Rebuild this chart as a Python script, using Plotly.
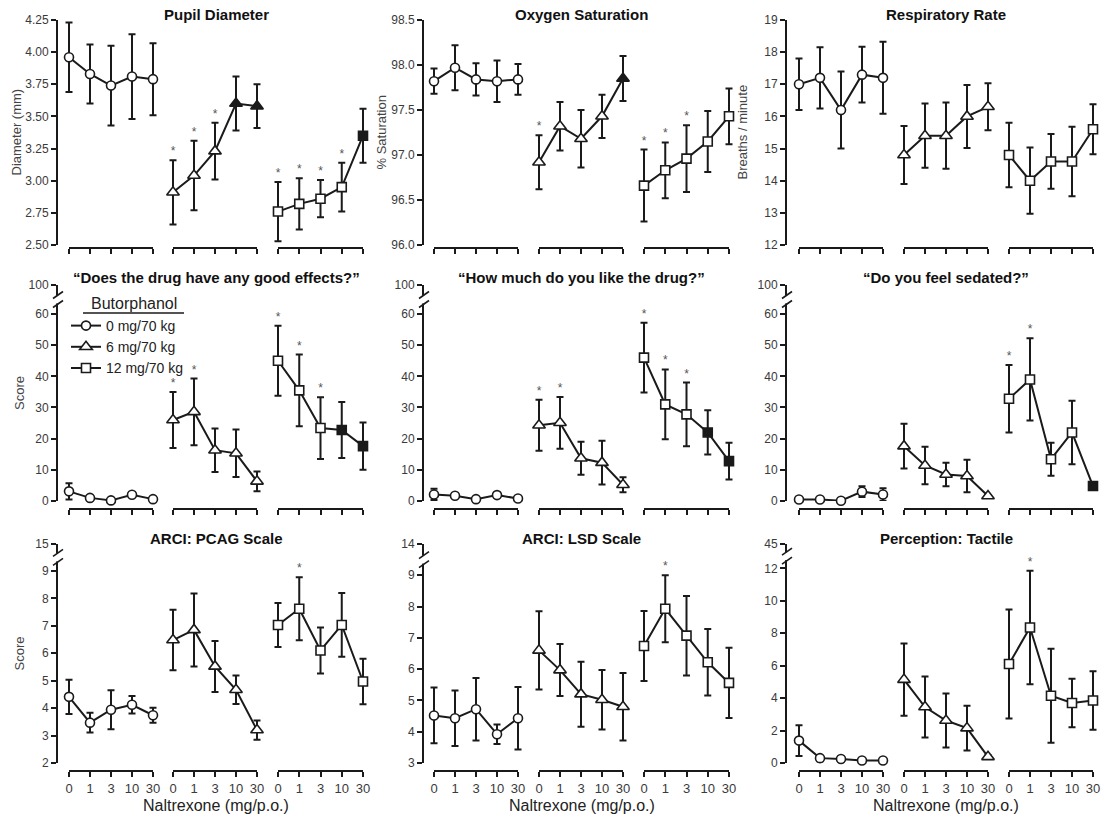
import plotly.graph_objects as go

W, H = 1103, 818

# ---------------- data ----------------
naltrexone_labels = ["0", "1", "3", "10", "30"]
butorphanol_doses = ["0 mg/70 kg", "6 mg/70 kg", "12 mg/70 kg"]

pupil_0 = [3.96, 3.83, 3.74, 3.81, 3.79]
pupil_0_err = [0.27, 0.23, 0.31, 0.33, 0.28]
pupil_6 = [2.91, 3.04, 3.23, 3.60, 3.58]
pupil_6_err = [0.25, 0.27, 0.22, 0.21, 0.17]
pupil_12 = [2.76, 2.82, 2.86, 2.95, 3.35]
pupil_12_err = [0.23, 0.20, 0.145, 0.19, 0.21]

oxygen_0 = [97.82, 97.97, 97.84, 97.82, 97.84]
oxygen_0_err = [0.14, 0.25, 0.18, 0.23, 0.17]
oxygen_6 = [96.92, 97.32, 97.18, 97.43, 97.85]
oxygen_6_err = [0.30, 0.27, 0.32, 0.24, 0.25]
oxygen_12 = [96.66, 96.83, 96.96, 97.15, 97.43]
oxygen_12_err = [0.40, 0.31, 0.37, 0.34, 0.31]

resp_0 = [17.0, 17.2, 16.2, 17.3, 17.2]
resp_0_err = [0.80, 0.95, 1.20, 0.87, 1.12]
resp_6 = [14.8, 15.4, 15.4, 16.0, 16.3]
resp_6_err = [0.90, 1.00, 1.03, 0.98, 0.73]
resp_12 = [14.8, 14.0, 14.6, 14.6, 15.6]
resp_12_err = [1.00, 1.03, 0.85, 1.08, 0.78]

good_0 = [3.1, 1.0, 0.2, 2.0, 0.6]
good_0_err = [2.6, 0.5, 0.3, 0.6, 0.4]
good_6 = [26.0, 28.6, 16.3, 15.3, 6.3]
good_6_err = [9.0, 10.7, 7.0, 7.6, 3.2]
good_12 = [45.0, 35.5, 23.4, 22.8, 17.6]
good_12_err = [11.2, 11.5, 9.9, 9.0, 7.6]

like_0 = [2.1, 1.7, 0.6, 1.9, 0.8]
like_0_err = [1.8, 0.5, 0.3, 0.5, 0.3]
like_6 = [24.3, 25.1, 13.7, 12.3, 5.2]
like_6_err = [8.2, 8.3, 5.3, 7.0, 2.4]
like_12 = [46.0, 31.0, 27.8, 22.0, 12.8]
like_12_err = [11.2, 11.2, 10.2, 7.1, 5.9]

sedated_0 = [0.5, 0.5, 0.1, 3.0, 2.1]
sedated_0_err = [0.3, 0.3, 0.2, 1.7, 2.0]
sedated_6 = [17.6, 11.4, 8.5, 8.0, 1.6]
sedated_6_err = [7.2, 6.0, 3.8, 5.2, 0.3]
sedated_12 = [32.8, 39.0, 13.4, 22.0, 4.8]
sedated_12_err = [10.8, 13.2, 5.3, 10.2, 0.3]

pcag_0 = [4.41, 3.47, 3.94, 4.12, 3.74]
pcag_0_err = [0.62, 0.36, 0.71, 0.32, 0.27]
pcag_6 = [6.48, 6.85, 5.52, 4.67, 3.20]
pcag_6_err = [1.10, 1.33, 0.93, 0.52, 0.35]
pcag_12 = [7.03, 7.62, 6.10, 7.03, 4.97]
pcag_12_err = [0.80, 1.15, 0.84, 1.16, 0.83]

lsd_0 = [4.52, 4.43, 4.72, 3.92, 4.43]
lsd_0_err = [0.89, 0.89, 1.00, 0.31, 1.00]
lsd_6 = [6.60, 5.97, 5.20, 5.02, 4.80]
lsd_6_err = [1.25, 0.83, 1.04, 0.95, 1.08]
lsd_12 = [6.74, 7.93, 7.07, 6.22, 5.56]
lsd_12_err = [1.12, 1.07, 1.27, 1.06, 1.12]

tactile_0 = [1.38, 0.30, 0.25, 0.15, 0.15]
tactile_0_err = [0.95, 0.10, 0.10, 0.10, 0.10]
tactile_6 = [5.14, 3.45, 2.62, 2.15, 0.38]
tactile_6_err = [2.23, 1.88, 1.67, 1.38, 0.10]
tactile_12 = [6.10, 8.35, 4.15, 3.70, 3.85]
tactile_12_err = [3.36, 3.50, 2.90, 1.50, 1.80]

# y tick values / labels per panel (last value on broken axes carries the break label)
pupil_ticks = [2.5, 2.75, 3.0, 3.25, 3.5, 3.75, 4.0, 4.25]
oxygen_ticks = [96.0, 96.5, 97.0, 97.5, 98.0, 98.5]
resp_ticks = [12, 13, 14, 15, 16, 17, 18, 19]
score_ticks = [0, 10, 20, 30, 40, 50, 60, 69.3]
score_ticktext = ["0", "10", "20", "30", "40", "50", "60", "100"]
pcag_ticks = [2, 3, 4, 5, 6, 7, 8, 9, 9.98]
pcag_ticktext = ["2", "3", "4", "5", "6", "7", "8", "9", "15"]
lsd_ticks = [3, 4, 5, 6, 7, 8, 9, 10]
lsd_ticktext = ["3", "4", "5", "6", "7", "8", "9", "14"]
tactile_ticks = [0, 2, 4, 6, 8, 10, 12, 13.5]
tactile_ticktext = ["0", "2", "4", "6", "8", "10", "12", "45"]

panels = [
    dict(title="Pupil Diameter", ytitle="Diameter (mm)",
         means=[pupil_0, pupil_6, pupil_12], errs=[pupil_0_err, pupil_6_err, pupil_12_err],
         filled=[[], [3, 4], [4]], stars=[[], [0, 1, 2], [0, 1, 2, 3]],
         ticks=pupil_ticks, ticktext=[f"{v:.2f}" for v in pupil_ticks], broken=False),
    dict(title="Oxygen Saturation", ytitle="% Saturation",
         means=[oxygen_0, oxygen_6, oxygen_12], errs=[oxygen_0_err, oxygen_6_err, oxygen_12_err],
         filled=[[], [4], []], stars=[[], [0], [0, 1, 2]],
         ticks=oxygen_ticks, ticktext=[f"{v:.1f}" for v in oxygen_ticks], broken=False),
    dict(title="Respiratory Rate", ytitle="Breaths / minute",
         means=[resp_0, resp_6, resp_12], errs=[resp_0_err, resp_6_err, resp_12_err],
         filled=[[], [], []], stars=[[], [], []],
         ticks=resp_ticks, ticktext=[str(v) for v in resp_ticks], broken=False),
    dict(title="\u201cDoes the drug have any good effects?\u201d", ytitle="Score",
         means=[good_0, good_6, good_12], errs=[good_0_err, good_6_err, good_12_err],
         filled=[[], [], [3, 4]], stars=[[], [0, 1], [0, 1, 2]],
         ticks=score_ticks, ticktext=score_ticktext, broken=True),
    dict(title="\u201cHow much do you like the drug?\u201d", ytitle=None,
         means=[like_0, like_6, like_12], errs=[like_0_err, like_6_err, like_12_err],
         filled=[[], [], [3, 4]], stars=[[], [0, 1], [0, 1, 2]],
         ticks=score_ticks, ticktext=score_ticktext, broken=True),
    dict(title="\u201cDo you feel sedated?\u201d", ytitle=None,
         means=[sedated_0, sedated_6, sedated_12], errs=[sedated_0_err, sedated_6_err, sedated_12_err],
         filled=[[], [], [4]], stars=[[], [], [0, 1]],
         ticks=score_ticks, ticktext=score_ticktext, broken=True),
    dict(title="ARCI: PCAG Scale", ytitle="Score",
         means=[pcag_0, pcag_6, pcag_12], errs=[pcag_0_err, pcag_6_err, pcag_12_err],
         filled=[[], [], []], stars=[[], [], [1]],
         ticks=pcag_ticks, ticktext=pcag_ticktext, broken=True),
    dict(title="ARCI: LSD Scale", ytitle=None,
         means=[lsd_0, lsd_6, lsd_12], errs=[lsd_0_err, lsd_6_err, lsd_12_err],
         filled=[[], [], []], stars=[[], [], [1]],
         ticks=lsd_ticks, ticktext=lsd_ticktext, broken=True),
    dict(title="Perception: Tactile", ytitle=None,
         means=[tactile_0, tactile_6, tactile_12], errs=[tactile_0_err, tactile_6_err, tactile_12_err],
         filled=[[], [], []], stars=[[], [], [1]],
         ticks=tactile_ticks, ticktext=tactile_ticktext, broken=True),
]

# ---------------- layout geometry (pixels) ----------------
COL_YAXIS_X = [58, 424, 787]
COL_SEGS = [[(69, 153), (173, 257), (278, 363)],
            [(434, 518), (539, 623), (644, 729)],
            [(799, 883), (904, 988), (1009, 1093)]]
ROW_DOM = [(20, 245), (285, 501), (544, 763)]
ROW_XOFF = [2, 7, 7]
TITLE_Y = [15, 277, 538]
YTITLE_X = [16, 381, 742]
SEG_PAD = 9      # px of invisible room around each segment so caps/markers are not clipped
STAR_GAP = 8     # px between error-bar cap and the centre of the significance star

SYMBOLS = ["circle", "triangle-up", "square"]
SIZES = [9, 11, 9]
INK = "#1a1a1a"
FONT = "Liberation Sans, Arial, Helvetica, sans-serif"


def px(x):
    return x / W


def py(y):
    return 1 - y / H


fig = go.Figure()
layout = dict(
    width=W, height=H, autosize=False,
    margin=dict(l=0, r=0, t=0, b=0, pad=0, autoexpand=False),
    paper_bgcolor="white", plot_bgcolor="rgba(0,0,0,0)",
    font=dict(family=FONT, color=INK),
    showlegend=True,
    annotations=[], shapes=[],
)


def empty(xa, ya):
    fig.add_trace(go.Scatter(x=[], y=[], xaxis=xa, yaxis=ya, showlegend=False, hoverinfo="skip"))


# dummy anchor axes: one x per column (places y-axis lines), one y per row (places x-axis lines)
for c in range(3):
    layout[f"xaxis{28 + c}"] = dict(domain=[px(COL_YAXIS_X[c]), px(COL_YAXIS_X[c] + 1)],
                                    visible=False, range=[0, 1], anchor="y10")
for r in range(3):
    b = ROW_DOM[r][1] + ROW_XOFF[r]
    layout[f"yaxis{10 + r}"] = dict(domain=[py(b), py(b - 1)], visible=False, range=[0, 1],
                                    anchor="x28")

for p, pan in enumerate(panels):
    r, c = divmod(p, 3)
    yid = "" if p == 0 else str(p + 1)
    top_px, bot_px = ROW_DOM[r]
    ticks = pan["ticks"]
    yr = [ticks[0], ticks[-1]]
    units_per_px = (yr[1] - yr[0]) / (bot_px - top_px)
    layout["yaxis" + yid] = dict(
        domain=[py(bot_px), py(top_px)], range=yr, anchor=f"x{28 + c}",
        showline=True, linecolor=INK, linewidth=2, ticks="outside", ticklen=5, tickwidth=2,
        tickcolor=INK, tickvals=ticks, ticktext=pan["ticktext"],
        tickfont=dict(size=12, color="#3a3a3a"), showgrid=False, zeroline=False,
    )
    empty(f"x{28 + c}", "y" + yid)
    for g in range(3):
        k = p * 3 + g + 1
        xid = "" if k == 1 else str(k)
        l_px, r_px = COL_SEGS[c][g]
        upp = 4.0 / (r_px - l_px)
        # invisible data axis (slightly padded, same scale as the visible segment)
        layout["xaxis" + xid] = dict(
            domain=[px(l_px - SEG_PAD), px(r_px + SEG_PAD)],
            range=[-SEG_PAD * upp, 4 + SEG_PAD * upp], anchor="y" + yid, visible=False,
        )
        # visible axis segment
        kd = 30 + k
        layout[f"xaxis{kd}"] = dict(
            domain=[px(l_px), px(r_px)], range=[0, 4], anchor=f"y{10 + r}",
            showline=True, linecolor=INK, linewidth=2, ticks="outside", ticklen=5, tickwidth=2,
            tickcolor=INK, tickvals=[0, 1, 2, 3, 4], ticktext=naltrexone_labels,
            showticklabels=(r == 2), tickfont=dict(size=13, color="#3a3a3a"),
            showgrid=False, zeroline=False,
        )
        empty(f"x{kd}", f"y{10 + r}")

        ys = pan["means"][g]
        es = pan["errs"][g]
        colors = [INK if i in pan["filled"][g] else "white" for i in range(len(ys))]
        fig.add_trace(go.Scatter(
            x=list(range(len(ys))), y=ys, xaxis="x" + xid, yaxis="y" + yid,
            mode="lines+markers", name=butorphanol_doses[g],
            showlegend=(p == 3), legendgroup=str(g),
            line=dict(color=INK, width=2),
            marker=dict(symbol=SYMBOLS[g], size=SIZES[g], color=colors,
                        line=dict(color=INK, width=1.6)),
            error_y=dict(type="data", array=es, symmetric=True, color=INK, thickness=2, width=3.5),
            cliponaxis=False, hoverinfo="skip",
        ))
        st = pan["stars"][g]
        if st:
            fig.add_trace(go.Scatter(
                x=st, y=[ys[i] + es[i] + STAR_GAP * units_per_px for i in st],
                xaxis="x" + xid, yaxis="y" + yid,
                mode="text", text=["*"] * len(st), textposition="middle center",
                textfont=dict(size=12, color="#555555"), showlegend=False,
                cliponaxis=False, hoverinfo="skip",
            ))

    # panel title
    segs = COL_SEGS[c]
    layout["annotations"].append(dict(
        text="<b>" + pan["title"] + "</b>", x=px((segs[0][0] + segs[2][1]) / 2), y=py(TITLE_Y[r]),
        xref="paper", yref="paper", xanchor="center", yanchor="middle", showarrow=False,
        font=dict(size=15, color="#111111", family=FONT)))
    if pan["ytitle"]:
        layout["annotations"].append(dict(
            text=pan["ytitle"], x=px(YTITLE_X[c] if r == 0 else 19), y=py((top_px + bot_px) / 2),
            xref="paper", yref="paper", xanchor="center", yanchor="middle", textangle=-90,
            showarrow=False, font=dict(size=13, color="#444444")))

    # axis break marks
    if pan["broken"]:
        t_hi, t_lo = ticks[-1], ticks[-2]
        mid_val = (t_hi + t_lo) / 2
        mid_px = bot_px - (mid_val - yr[0]) / (yr[1] - yr[0]) * (bot_px - top_px)
        ax = COL_YAXIS_X[c]
        layout["shapes"].append(dict(type="rect", xref="paper", yref="paper",
                                     x0=px(ax - 3), x1=px(ax + 3), y0=py(mid_px + 4), y1=py(mid_px - 4),
                                     fillcolor="white", line=dict(width=0), layer="above"))
        for d in (-4.5, 4.5):
            layout["shapes"].append(dict(type="line", xref="paper", yref="paper",
                                         x0=px(ax - 5), y0=py(mid_px + d + 3.5),
                                         x1=px(ax + 5), y1=py(mid_px + d - 3.5),
                                         line=dict(color=INK, width=1.6), layer="above"))

# x-axis titles
for c in range(3):
    segs = COL_SEGS[c]
    layout["annotations"].append(dict(
        text="Naltrexone (mg/p.o.)", x=px((segs[0][0] + segs[2][1]) / 2), y=py(805),
        xref="paper", yref="paper", xanchor="center", yanchor="middle", showarrow=False,
        font=dict(size=16, color="#222222")))

# legend (title drawn as underlined heading)
layout["annotations"].append(dict(
    text="Butorphanol", x=px(134), y=py(303), xref="paper", yref="paper",
    xanchor="center", yanchor="middle", showarrow=False, font=dict(size=16, color="#222222")))
layout["shapes"].append(dict(type="line", xref="paper", yref="paper",
                             x0=px(83), x1=px(184), y0=py(313), y1=py(313),
                             line=dict(color=INK, width=1.5)))
layout["legend"] = dict(
    x=px(66), y=py(310), xanchor="left", yanchor="top",
    bgcolor="rgba(0,0,0,0)", font=dict(size=14, color="#222222"),
    itemwidth=30, tracegroupgap=0,
)

fig.update_layout(**layout)
fig.write_html("out.html", config={"displayModeBar": False},
               post_script="document.body.style.margin='0px';document.body.style.overflow='hidden';")
